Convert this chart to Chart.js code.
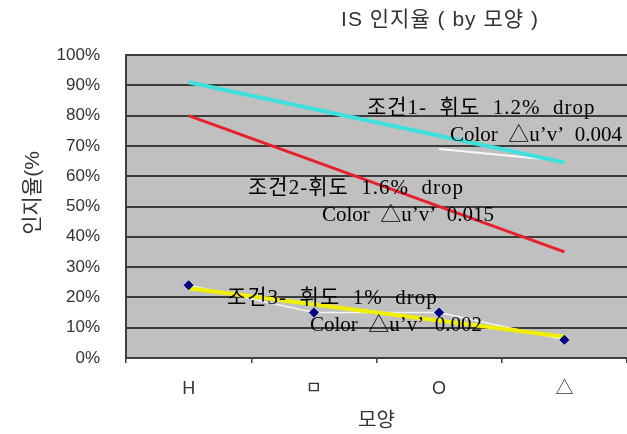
<!DOCTYPE html>
<html><head><meta charset="utf-8">
<script src="https://cdn.jsdelivr.net/npm/chart.js@4/dist/chart.umd.min.js"></script>
<style>html,body{margin:0;padding:0;background:#fff}#wrap{width:627px;height:434px}</style>
</head><body><div id="wrap"><canvas id="c" width="627" height="434"></canvas></div>
<script>
const categories = ['H', 'ㅁ', 'O', '△'];
const yTicks = [0,10,20,30,40,50,60,70,80,90,100];
// trend lines (endpoints only)
const trend1 = [91, null, null, 64.5];
const trend2 = [80, null, null, 35];
const trend3 = [23, null, null, 7];
// measured data visible in the picture
const cond1Data = [null, null, 69, 65];
const cond3Data = [24, 15, 15, 6];
// annotations: [text, category position, value, korean line?]
const notes = [
  ['조건1-  휘도  1.2%  drop', 1.424, 82.5, true],
  ['Color  △u’v’  0.004', 2.087, 73.6, false],
  ['조건2-휘도  1.6%  drop', 0.474, 56.1, true],
  ['Color  △u’v’  0.015', 1.065, 46.9, false],
  ['조건3-  휘도  1%  drop', 0.306, 19.5, true],
  ['Color  △u’v’  0.002', 0.969, 10.6, false]
];
const chartTitle = 'IS 인지율 ( by 모양 )';
const xTitle = '모양';
const yTitle = '인지율(%';

const SANS = '"Liberation Sans","Noto Sans CJK KR",sans-serif';
const SERIF = '"Liberation Serif","Noto Sans CJK KR",serif';

const bgPlugin = {
  id: 'bg',
  beforeDraw(chart) {
    const a = chart.chartArea, ctx = chart.ctx;
    ctx.save(); ctx.fillStyle = '#c0c0c0';
    ctx.fillRect(a.left, a.top, a.right - a.left, a.bottom - a.top);
    ctx.restore();
  },
  afterDatasetsDraw(chart) {
    const ctx = chart.ctx, x = chart.scales.x, y = chart.scales.y;
    ctx.save();
    ctx.fillStyle = '#000';
    ctx.font = '21px ' + SERIF;
    ctx.textBaseline = 'middle'; ctx.textAlign = 'left';
    notes.forEach(n => {
      ctx.letterSpacing = n[3] ? '1px' : '0px';
      ctx.fillText(n[0], x.getPixelForValue(n[1]), y.getPixelForValue(n[2]));
    });
    ctx.restore();
  },
  afterDraw(chart) {
    const ctx = chart.ctx, a = chart.chartArea;
    ctx.save();
    ctx.fillStyle = '#333';
    ctx.textBaseline = 'middle'; ctx.textAlign = 'center';
    ctx.font = '21px ' + SANS;
    ctx.letterSpacing = '1px';
    ctx.fillText(chartTitle, 440, 20);
    ctx.letterSpacing = '0px';
    ctx.font = '20px ' + SANS;
    ctx.fillText(xTitle, (a.left + a.right) / 2, 421);
    ctx.font = '21px ' + SANS;
    ctx.translate(33, 193); ctx.rotate(-Math.PI / 2);
    ctx.fillText(yTitle, 0, 0);
    ctx.restore();
  }
};

new Chart(document.getElementById('c'), {
  type: 'line',
  data: {
    labels: categories,
    datasets: [
      { data: cond3Data, showLine: false, pointStyle: 'rectRot', pointRadius: 4.5, pointBackgroundColor: '#000080', pointBorderColor: '#000080', order: 1 },
      { data: trend3, borderColor: '#f0f000', borderWidth: 4, pointRadius: 0, spanGaps: true, order: 2 },
      { data: cond3Data, borderColor: '#f4f4f4', borderWidth: 1.5, pointRadius: 0, order: 3 },
      { data: trend2, borderColor: '#e8202c', borderWidth: 3, pointRadius: 0, spanGaps: true, order: 4 },
      { data: trend1, borderColor: '#40e0dc', borderWidth: 4, pointRadius: 0, spanGaps: true, order: 5 },
      { data: cond1Data, borderColor: '#f8f8f8', borderWidth: 2, pointRadius: 0, order: 6 }
    ]
  },
  options: {
    responsive: false, animation: false,
    layout: { autoPadding: false, padding: { top: 55, right: 0, left: 0, bottom: 0 } },
    plugins: { legend: { display: false }, title: { display: false }, tooltip: { enabled: false } },
    scales: {
      x: {
        offset: true,
        grid: { display: true, offset: true, drawOnChartArea: false, drawTicks: true, tickLength: 5, color: '#404040', lineWidth: 1.5 },
        border: { display: true, color: '#404040', width: 2 },
        ticks: { color: '#333', font: { size: 18, family: SANS }, padding: 15 },
        afterFit(s) { s.height = 76; s.paddingLeft = 0; s.paddingRight = 0; }
      },
      y: {
        min: 0, max: 100,
        afterBuildTicks(s) { s.ticks = yTicks.map(v => ({ value: v })); },
        grid: { color: '#3c3c3c', lineWidth: 2, drawTicks: false },
        border: { display: true, color: '#404040', width: 2 },
        ticks: { color: '#333', font: { size: 17, family: SANS }, padding: 26, callback: v => v + '%' },
        afterFit(s) { s.width = 126; s.paddingTop = 0; s.paddingBottom = 0; }
      }
    }
  },
  plugins: [bgPlugin]
});
</script>
</body></html>
